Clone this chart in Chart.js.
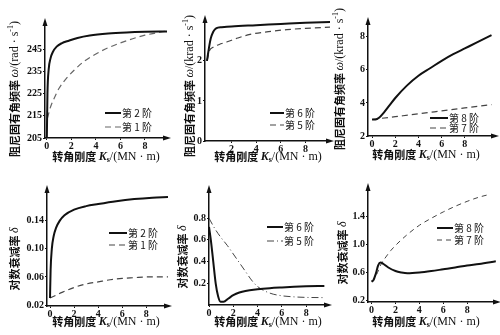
<!DOCTYPE html>
<html>
<head>
<meta charset="utf-8">
<script src="https://cdn.jsdelivr.net/npm/chart.js@4.4.1/dist/chart.umd.min.js"></script>
<style>
  body { margin: 0; background: #fff; }
  #wrap { position: relative; width: 500px; height: 335px; background: #fff; }
  #wrap canvas { position: absolute; left: 0; top: 0; }
</style>
</head>
<body>
<div id="wrap">
  <canvas id="c1" width="500" height="335"></canvas>
  <canvas id="c2" width="500" height="335"></canvas>
  <canvas id="c3" width="500" height="335"></canvas>
  <canvas id="c4" width="500" height="335"></canvas>
  <canvas id="c5" width="500" height="335"></canvas>
  <canvas id="c6" width="500" height="335"></canvas>
</div>
<script>
//Axis texts
const X_TITLE = '转角刚度 ';
const Y_FREQ = '阻尼固有角频率 ';
const Y_DECAY = '对数衰减率 ';

//Tick labels
const kTicks = [0, 2, 4, 6, 8];
const freq1Ticks = [205, 215, 225, 235, 245];
const freq2Ticks = [0, 1, 2];
const freq3Ticks = [2, 4, 6, 8];
const decay1Ticks = [0.02, 0.06, 0.10, 0.14];
const decay2Ticks = [0.2, 0.4, 0.6, 0.8];
const decay3Ticks = [0.2, 0.6, 1.0, 1.4];

//Frequency, modes 1 and 2 (rad/s)
const f2K = [0, 0.05, 0.15, 0.3, 0.5, 0.8, 1.2, 1.8, 2.5, 3.5, 5, 6.5, 8, 9.8];
const f2W = [205, 225, 236, 241, 244, 246.3, 247.8, 249, 250.2, 251.3, 252.2, 252.7, 253, 253.2];
const f1K = [0.05, 0.3, 0.6, 1, 1.6, 2.2, 3, 4, 5, 6, 7, 8, 9, 9.7];
const f1W = [214, 219, 223, 227.5, 232, 235.5, 239.5, 243, 245.8, 248, 249.9, 251.5, 252.6, 253.3];

//Frequency, modes 5 and 6 (krad/s)
const f6K = [0, 0.15, 0.3, 0.5, 0.7, 0.9, 1.2, 2, 4, 6, 8, 10];
const f6W = [2.0, 2.3, 2.55, 2.72, 2.8, 2.83, 2.84, 2.86, 2.89, 2.92, 2.95, 2.97];
const f5K = [0, 0.2, 0.5, 1, 1.6, 2.5, 3.5, 5, 6.5, 8, 10];
const f5W = [2.0, 2.25, 2.34, 2.41, 2.47, 2.57, 2.66, 2.73, 2.78, 2.81, 2.84];

//Frequency, modes 7 and 8 (krad/s)
const f8K = [0, 0.3, 0.6, 1, 1.5, 2, 3, 4, 5, 6, 7, 8, 9, 10.3];
const f8W = [3, 3, 3.1, 3.4, 3.85, 4.3, 5.05, 5.65, 6.1, 6.55, 6.95, 7.3, 7.65, 8.1];
const f7K = [0, 2, 4, 6, 8, 10.3];
const f7W = [3.0, 3.17, 3.34, 3.52, 3.7, 3.9];

//Logarithmic decrement, modes 1 and 2
const d2K = [0, 0.05, 0.15, 0.3, 0.5, 0.8, 1.2, 2, 3, 4, 5.5, 7, 8.5, 9.8];
const d2D = [0.03, 0.07, 0.1, 0.118, 0.13, 0.14, 0.148, 0.156, 0.161, 0.164, 0.168, 0.171, 0.173, 0.174];
const d1K = [0, 0.5, 1, 2, 3, 4, 5, 6, 7, 8, 9.8];
const d1D = [0.03, 0.034, 0.038, 0.045, 0.05, 0.053, 0.056, 0.058, 0.059, 0.06, 0.06];

//Logarithmic decrement, modes 5 and 6
const d6K = [0, 0.15, 0.35, 0.55, 0.75, 0.95, 1.2, 1.6, 2, 2.5, 3, 4, 5, 6, 7, 8, 9.5];
const d6D = [0.72, 0.6, 0.4, 0.2, 0.08, 0.03, 0.03, 0.06, 0.09, 0.115, 0.13, 0.145, 0.155, 0.162, 0.168, 0.172, 0.175];
const d5K = [0, 0.5, 1, 1.5, 2, 2.5, 3, 3.5, 4, 5, 6, 7, 8, 9.5];
const d5D = [0.8, 0.7, 0.62, 0.55, 0.47, 0.39, 0.31, 0.23, 0.17, 0.11, 0.085, 0.075, 0.07, 0.068];

//Logarithmic decrement, modes 7 and 8
const d8K = [0, 0.15, 0.35, 0.55, 0.75, 1, 1.4, 2, 2.5, 3, 4, 5, 6, 7, 8, 9, 10.4];
const d8D = [0.47, 0.49, 0.58, 0.7, 0.74, 0.72, 0.67, 0.62, 0.6, 0.59, 0.6, 0.62, 0.645, 0.67, 0.7, 0.72, 0.76];
const d7K = [0, 0.2, 0.5, 0.8, 1.2, 1.6, 2.1, 3, 4, 5, 6, 7, 8, 9, 9.9];
const d7D = [0.47, 0.5, 0.6, 0.72, 0.82, 0.91, 1.0, 1.14, 1.27, 1.37, 1.46, 1.54, 1.61, 1.67, 1.71];

const FONT_CJK = '"Noto Sans CJK SC", sans-serif';
const FONT_NUM = '"Liberation Serif", "DejaVu Serif", serif';
const Y_AXIS_W = 30;
const X_AXIS_H = 20;

const toPoints = (xs, ys) => xs.map((x, i) => ({ x: x, y: ys[i] }));

//Line styles
const solid = { borderColor: '#111', borderWidth: 2 };
const dashed = { borderColor: '#444', borderWidth: 1.2, borderDash: [6, 4] };
const dashDot = { borderColor: '#444', borderWidth: 1, borderDash: [7, 3, 1, 3] };

//Draws a row of text pieces centred on (cx, cy)
function drawPieces(ctx, pieces, cx, cy) {
  let total = 0;
  pieces.forEach(p => { ctx.font = p.font; total += ctx.measureText(p.t).width; });
  let x = cx - total / 2;
  ctx.textBaseline = 'middle';
  ctx.textAlign = 'left';
  pieces.forEach(p => {
    ctx.font = p.font;
    ctx.fillText(p.t, x, cy + (p.dy || 0));
    x += ctx.measureText(p.t).width;
  });
}

function xTitlePieces() {
  return [
    { t: X_TITLE, font: `bold 11px ${FONT_CJK}` },
    { t: 'K', font: `italic bold 12px ${FONT_NUM}` },
    { t: 's', font: `bold 8px ${FONT_NUM}`, dy: 3 },
    { t: '/(MN · m)', font: `12px ${FONT_NUM}` }
  ];
}

function freqTitlePieces(unit) {
  return [
    { t: Y_FREQ, font: `bold 11px ${FONT_CJK}` },
    { t: 'ω', font: `italic 12px ${FONT_NUM}` },
    { t: '/(' + unit + ' · s', font: `12px ${FONT_NUM}` },
    { t: '-1', font: `8px ${FONT_NUM}`, dy: -4 },
    { t: ')', font: `12px ${FONT_NUM}` }
  ];
}

function decayTitlePieces() {
  return [
    { t: Y_DECAY, font: `bold 11px ${FONT_CJK}` },
    { t: 'δ', font: `italic 12px ${FONT_NUM}` }
  ];
}

//Plugin for the arrows, the axis titles and the small legend inside the plot
const decor = {
  id: 'decor',
  afterDraw(chart, args, opts) {
    const ctx = chart.ctx;
    const a = chart.chartArea;
    ctx.save();
    ctx.fillStyle = '#111';
    //arrow heads
    ctx.beginPath();
    ctx.moveTo(a.left, a.top - 5);
    ctx.lineTo(a.left - 2.5, a.top + 3);
    ctx.lineTo(a.left + 2.5, a.top + 3);
    ctx.fill();
    ctx.beginPath();
    ctx.moveTo(a.right + 4, a.bottom);
    ctx.lineTo(a.right - 4, a.bottom - 2.5);
    ctx.lineTo(a.right - 4, a.bottom + 2.5);
    ctx.fill();
    //axis titles
    drawPieces(ctx, opts.xTitle.pieces, opts.xTitle.cx, opts.xTitle.cy);
    ctx.save();
    ctx.translate(opts.yTitle.cx, opts.yTitle.cy);
    ctx.rotate(-Math.PI / 2);
    drawPieces(ctx, opts.yTitle.pieces, 0, 0);
    ctx.restore();
    //legend
    const lg = opts.legend;
    chart.data.datasets.forEach((ds, i) => {
      const y = lg.y + i * lg.gap;
      ctx.save();
      ctx.strokeStyle = ds.borderColor;
      ctx.lineWidth = ds.borderWidth;
      ctx.setLineDash(ds.borderDash || []);
      ctx.beginPath();
      ctx.moveTo(lg.x, y);
      ctx.lineTo(lg.x + lg.len, y);
      ctx.stroke();
      ctx.restore();
      ctx.font = `10px ${FONT_CJK}`;
      ctx.textAlign = 'left';
      ctx.textBaseline = 'middle';
      ctx.fillText(ds.label, lg.x + lg.len + 1, y);
    });
    ctx.restore();
  }
};

function axis(min, max, ticks, digits, isY) {
  return {
    type: 'linear',
    min: min,
    max: max,
    border: { display: true, color: '#111', width: 1.5 },
    grid: { drawOnChartArea: false, drawTicks: true, tickLength: 2, color: '#111' },
    ticks: {
      color: '#111',
      padding: isY ? 1 : 0,
      font: { family: FONT_NUM, size: 10, weight: 'bold' },
      callback: v => v.toFixed(digits)
    },
    afterBuildTicks: scale => { scale.ticks = ticks.map(v => ({ value: v })); },
    afterFit: scale => {
      if (isY) scale.width = Y_AXIS_W; else scale.height = X_AXIS_H;
    }
  };
}

//Builds one of the six panels
function makePanel(id, p) {
  const datasets = p.series.map(s => Object.assign({
    label: s.label,
    data: toPoints(s.x, s.y),
    pointRadius: 0,
    fill: false,
    cubicInterpolationMode: 'monotone'
  }, s.style));
  new Chart(document.getElementById(id).getContext('2d'), {
    type: 'line',
    data: { datasets: datasets },
    options: {
      responsive: false,
      animation: false,
      events: [],
      layout: {
        padding: {
          left: p.area[0] - Y_AXIS_W,
          top: p.area[1],
          right: 500 - p.area[2],
          bottom: 335 - p.area[3] - X_AXIS_H
        }
      },
      scales: {
        x: axis(p.x[0], p.x[1], p.xTicks, 0, false),
        y: axis(p.y[0], p.y[1], p.yTicks, p.digits, true)
      },
      plugins: {
        legend: { display: false },
        tooltip: { enabled: false },
        decor: p.decor
      }
    },
    plugins: [decor]
  });
}

makePanel('c1', {
  area: [45, 23, 167, 138], x: [-0.15, 9.8], y: [205, 257],
  xTicks: kTicks, yTicks: freq1Ticks, digits: 0,
  series: [
    { label: '第 2 阶', x: f2K, y: f2W, style: solid },
    { label: '第 1 阶', x: f1K, y: f1W, style: Object.assign({}, dashed, { borderColor: '#666' }) }
  ],
  decor: {
    legend: { x: 105, y: 113, len: 16, gap: 14 },
    xTitle: { cx: 106, cy: 157, pieces: xTitlePieces() },
    yTitle: { cx: 15, cy: 89, pieces: freqTitlePieces('rad') }
  }
});

makePanel('c2', {
  area: [205, 20, 330, 141], x: [-0.16, 10], y: [0, 3.02],
  xTicks: [2, 4, 6, 8], yTicks: freq2Ticks, digits: 0,
  series: [
    { label: '第 6 阶', x: f6K, y: f6W, style: solid },
    { label: '第 5 阶', x: f5K, y: f5W, style: dashed }
  ],
  decor: {
    legend: { x: 270, y: 113, len: 14, gap: 12 },
    xTitle: { cx: 268, cy: 157, pieces: xTitlePieces() },
    yTitle: { cx: 190, cy: 86, pieces: freqTitlePieces('krad') }
  }
});

makePanel('c3', {
  area: [368, 22, 495, 136], x: [-0.35, 10.6], y: [2, 8.9],
  xTicks: kTicks, yTicks: freq3Ticks, digits: 0,
  series: [
    { label: '第 8 阶', x: f8K, y: f8W, style: solid },
    { label: '第 7 阶', x: f7K, y: f7W, style: dashed }
  ],
  decor: {
    legend: { x: 430, y: 118, len: 18, gap: 10 },
    xTitle: { cx: 426, cy: 155, pieces: xTitlePieces() },
    yTitle: { cx: 340, cy: 79, pieces: freqTitlePieces('krad') }
  }
});

makePanel('c4', {
  area: [47, 190, 168, 306], x: [-0.25, 9.8], y: [0.0186, 0.184],
  xTicks: kTicks, yTicks: decay1Ticks, digits: 2,
  series: [
    { label: '第 2 阶', x: d2K, y: d2D, style: solid },
    { label: '第 1 阶', x: d1K, y: d1D, style: dashed }
  ],
  decor: {
    legend: { x: 109, y: 233, len: 18, gap: 12 },
    xTitle: { cx: 106, cy: 322, pieces: xTitlePieces() },
    yTitle: { cx: 15, cy: 259, pieces: decayTitlePieces() }
  }
});

makePanel('c5', {
  area: [209, 190, 328, 305], x: [0, 9.8], y: [0, 1.06],
  xTicks: kTicks, yTicks: decay2Ticks, digits: 1,
  series: [
    { label: '第 6 阶', x: d6K, y: d6D, style: solid },
    { label: '第 5 阶', x: d5K, y: d5D, style: dashDot }
  ],
  decor: {
    legend: { x: 267, y: 227, len: 16, gap: 14 },
    xTitle: { cx: 268, cy: 322, pieces: xTitlePieces() },
    yTitle: { cx: 183, cy: 257, pieces: decayTitlePieces() }
  }
});

makePanel('c6', {
  area: [368, 188, 497, 302], x: [-0.3, 10.5], y: [0.18, 1.8],
  xTicks: kTicks, yTicks: decay3Ticks, digits: 1,
  series: [
    { label: '第 8 阶', x: d8K, y: d8D, style: solid },
    { label: '第 7 阶', x: d7K, y: d7D, style: Object.assign({}, dashed, { borderDash: [5, 4], borderWidth: 1 }) }
  ],
  decor: {
    legend: { x: 437, y: 228, len: 16, gap: 12 },
    xTitle: { cx: 426, cy: 322, pieces: xTitlePieces() },
    yTitle: { cx: 343, cy: 253, pieces: decayTitlePieces() }
  }
});
</script>
</body>
</html>
